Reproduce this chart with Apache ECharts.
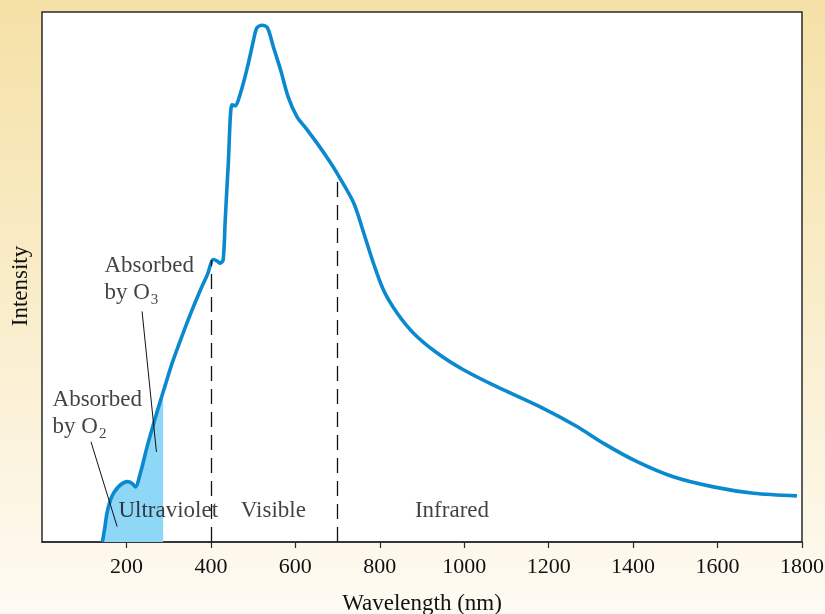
<!DOCTYPE html>
<html>
<head>
<meta charset="utf-8">
<script src="https://cdn.jsdelivr.net/npm/echarts@6/dist/echarts.min.js"></script>
<style>
html,body{margin:0;padding:0;}
#c{width:825px;height:614px;}
</style>
</head>
<body>
<div id="c"></div>
<script>
// Solar spectrum curve (wavelength nm, relative intensity)
var wavelength = [143,148,154,162,170,186,202,213,221,233,249,265,281,292,308,328,352,375,392,406,415,422,429,434,441,450,458,465,477,489,501,509,521,534,548,565,583,604,624,651,683,700,738,762,785,809,841,880,935,998,1077,1180,1267,1330,1408,1495,1590,1685,1788];
var intensity = [0,2.3,5.5,7.9,9.3,10.8,11.4,11.1,10.4,13.0,18.0,22.5,26.8,29.6,33.7,38.1,43.1,47.5,50.5,53.3,53.0,52.6,53.2,60.8,71.1,82.5,82.3,83.4,86.6,90.4,94.7,97.0,97.5,97.0,93.4,89.1,84.0,80.2,78.2,75.3,71.6,69.4,64.0,58.3,52.6,47.5,43.2,39.4,35.7,32.5,29.3,25.5,21.8,18.6,15.2,12.3,10.4,9.2,8.7];
// absorbed (shaded) region
var shadeWavelength = [143,148,154,162,170,186,202,213,221,233,249,265,281,287];
var shadeIntensity = [0,2.3,5.5,7.9,9.3,10.8,11.4,11.1,10.4,13.0,18.0,22.5,26.8,28.4];
// region dividers
var dividerX = [400,700];
var dividerTop = [53.2,69.4];
// x ticks
var xTicks = [200,400,600,800,1000,1200,1400,1600,1800];
// region labels
var regionNames = ['Ultraviolet','Visible','Infrared'];
var regionX = [299,548,971];
var regionY = [5.8,5.8,5.8];
// absorption notes
var noteText = ['{a|Absorbed}\n{a|by O}{s|3}','{a|Absorbed}\n{a|by O}{s|2}'];
var noteX = [148,25];
var noteY = [49.6,24.3];
var pointerFrom = [[237,43.5],[116,18.9]];
var pointerTo = [[271,17.0],[178,2.9]];

var FONT = '"Liberation Serif", "DejaVu Serif", serif';
var INK = '#111111';
var chart = echarts.init(document.getElementById('c'), null, {renderer:'canvas'});

function zip(a,b){ return a.map(function(v,i){ return [v,b[i]]; }); }

var markData = [];
dividerX.forEach(function(x,i){
  markData.push([{coord:[x,0], lineStyle:{type:[15,8],width:1.3,color:INK}},{coord:[x,dividerTop[i]]}]);
});
pointerFrom.forEach(function(p,i){
  markData.push([{coord:p, lineStyle:{type:'solid',width:1,color:INK}},{coord:pointerTo[i]}]);
});

var option = {
  animation:false,
  backgroundColor:{type:'linear',x:0,y:0,x2:0,y2:1,colorStops:[
    {offset:0,color:'#f5e1a6'},{offset:0.5,color:'#f9edcb'},{offset:1,color:'#fefbf3'}]},
  grid:{left:42,right:23,top:12,bottom:72,outerBoundsMode:'none',containLabel:false,
    show:true,backgroundColor:'#ffffff',borderColor:'#2a2a2a',borderWidth:1.5},
  xAxis:{
    type:'value',min:0,max:1800,interval:200,
    name:'Wavelength (nm)',nameLocation:'middle',nameGap:50,
    nameTextStyle:{fontFamily:FONT,fontSize:23,color:INK},
    axisLine:{show:true,lineStyle:{color:'#2a2a2a',width:1.5}},
    axisTick:{show:true,length:6,customValues:xTicks,lineStyle:{color:'#2a2a2a',width:1.2}},
    axisLabel:{fontFamily:FONT,fontSize:22,color:INK,margin:14,customValues:xTicks,
      formatter:function(v){ return String(v); }},
    splitLine:{show:false}
  },
  yAxis:{
    type:'value',min:0,max:100,
    name:'Intensity',nameLocation:'middle',nameGap:10,
    nameTextStyle:{fontFamily:FONT,fontSize:23,color:INK,padding:[0,18,0,0]},
    axisLine:{show:false},axisTick:{show:false},axisLabel:{show:false},splitLine:{show:false}
  },
  series:[
    {
      type:'line',data:zip(shadeWavelength,shadeIntensity),showSymbol:false,smooth:0.3,
      lineStyle:{width:0},areaStyle:{color:'#8fd7f6',opacity:1},silent:true,z:1
    },
    {
      type:'line',data:zip(wavelength,intensity),showSymbol:false,smooth:0.3,
      lineStyle:{width:3.6,color:'#0a89cf'},silent:true,z:3,
      markLine:{symbol:['none','none'],silent:true,label:{show:false},data:markData}
    },
    {
      type:'scatter',symbolSize:0,silent:true,z:5,
      data:zip(regionX,regionY).map(function(p,i){ return {value:p,name:regionNames[i]}; }),
      label:{show:true,position:'inside',formatter:'{b}',fontFamily:FONT,fontSize:23,color:INK}
    },
    {
      type:'scatter',symbolSize:0,silent:true,z:5,
      data:zip(noteX,noteY).map(function(p,i){ return {value:p,name:noteText[i]}; }),
      label:{show:true,position:'right',distance:0,formatter:'{b}',align:'left',
        rich:{
          a:{fontFamily:FONT,fontSize:23,color:INK,lineHeight:27},
          s:{fontFamily:FONT,fontSize:15,color:INK,lineHeight:27,padding:[14,0,0,1]}
        }}
    }
  ]
};
chart.setOption(option);
</script>
</body>
</html>
